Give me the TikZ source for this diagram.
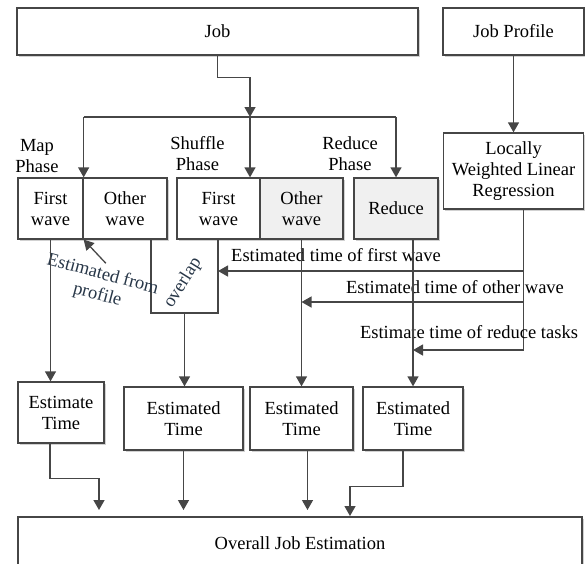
\documentclass[tikz,border=0pt]{standalone}
\usepackage{fontspec}
\setmainfont{Liberation Serif}
\usepackage{tikz}
\usetikzlibrary{arrows.meta,positioning,shadows,calc}
\definecolor{linegray}{RGB}{70,70,70}
\definecolor{cellgray}{RGB}{240,240,240}
\definecolor{notecol}{RGB}{40,55,72}
\tikzset{
  box/.style={rectangle, draw=linegray, line width=1.3pt, fill=white, inner sep=2pt, align=center,
    drop shadow={shadow xshift=1.5pt, shadow yshift=-1.5pt, fill=black, opacity=0.18}},
  shadedbox/.style={box, fill=cellgray},
  line/.style={draw=linegray, line width=1.3pt},
  arr/.style={line, -{Triangle[length=10pt,width=11pt]}},
  note/.style={text=notecol, align=center},
}

\begin{document}
\begin{tikzpicture}[x=1pt,y=-1pt,font=\fontsize{18.5}{21}\selectfont]
\useasboundingbox (0,0) rectangle (585,563);
\node[box, minimum width=401pt, minimum height=47pt] (job) at (217.5,31.5) {Job};
\node[box, minimum width=141pt, minimum height=47pt] (profile) at (513.5,31.5) {Job Profile};
\node[box, minimum width=140pt, minimum height=76pt] (lwlr) at (513.5,171) {Locally\\Weighted Linear\\Regression};

\node[align=center] (maplbl) at (37,156) {Map\\Phase};
\node[align=center] (shulbl) at (197.5,153.5) {Shuffle\\Phase};
\node[align=center] (redlbl) at (350,153.5) {Reduce\\Phase};

\node[box, minimum width=65pt, minimum height=61pt] (mapfirst) at (50.5,208.5) {First\\wave};
\node[box, minimum width=84pt, minimum height=61pt] (mapother) at (125,208.5) {Other\\wave};
\node[box, minimum width=83pt, minimum height=61pt] (shufirst) at (218.5,208.5) {First\\wave};
\node[shadedbox, minimum width=83pt, minimum height=61pt] (shuother) at (301.5,208.5) {Other\\wave};
\node[shadedbox, minimum width=84pt, minimum height=61pt] (reduce) at (396,208.5) {Reduce};

\coordinate (split) at (250,117);
\draw[arr] (job.south) -- ++(0,22) -| (split);
\draw[line] (mapfirst.north east |- split) -- (reduce.north |- split);
\draw[arr] (mapfirst.north east |- split) -- (mapfirst.north east);
\draw[arr] (split) -- (split |- shufirst.north);
\draw[arr] (reduce.north |- split) -- (reduce.north);
\draw[arr] (profile.south) -- (lwlr.north);

% overlap of map and shuffle
\draw[line] (151,239.5) |- (218,313) -- (218,239.5);
\coordinate (ovlbot) at (184.5,313);
\coordinate (ovlright) at (218,271);
\node[note, rotate=58] (ovltext) at (183,283) {overlap};
\node[note, rotate=-15] (fromprof) at (100,285) {Estimated from\\profile};
\draw[arr] (fromprof.north) -- (mapfirst.south east);

\coordinate (tap) at ([xshift=10pt]lwlr.south);
\coordinate (otherhit) at (301.5,302);
\coordinate (reducehit) at (413,350);
\draw[arr] (tap) |- (ovlright);
\draw[arr] (tap) |- (otherhit);
\draw[arr] (tap) |- (reducehit);
\node (lblfirst) at (336,255) {Estimated time of first wave};
\node (lblother) at (455,287) {Estimated time of other wave};
\node (lblreduce) at (469,332) {Estimate time of reduce tasks};

\node[box, minimum width=86pt, minimum height=61pt] (est1) at (61,412.5) {Estimate\\Time};
\node[box, minimum width=119pt, minimum height=63pt] (est2) at (183.5,418.5) {Estimated\\Time};
\node[box, minimum width=103pt, minimum height=63pt] (est3) at (301.5,418.5) {Estimated\\Time};
\node[box, minimum width=100pt, minimum height=63pt] (est4) at (413,418.5) {Estimated\\Time};
\node[box, minimum width=564pt, minimum height=52pt] (overall) at (300,543) {Overall Job Estimation};

\draw[arr] (mapfirst.south) -- (mapfirst.south |- est1.north);
\draw[arr] (ovlbot) -- (ovlbot |- est2.north);
\draw[arr] (shuother.south) -- (shuother.south |- est3.north);
\draw[arr] (reduce.south -| est4.north) -- (est4.north);

\coordinate (in1) at (99,510);
\coordinate (in2) at (183.5,510);
\coordinate (in3) at (307.5,510);
\coordinate (in4) at (350,516);
\draw[arr] ([xshift=-11pt]est1.south) -- ++(0,35) -| (in1);
\draw[arr] (est2.south) -- (in2);
\draw[arr] ([xshift=6pt]est3.south) -- (in3);
\draw[arr] ([xshift=-10pt]est4.south) -- ++(0,36) -| (in4);
\end{tikzpicture}
\end{document}
